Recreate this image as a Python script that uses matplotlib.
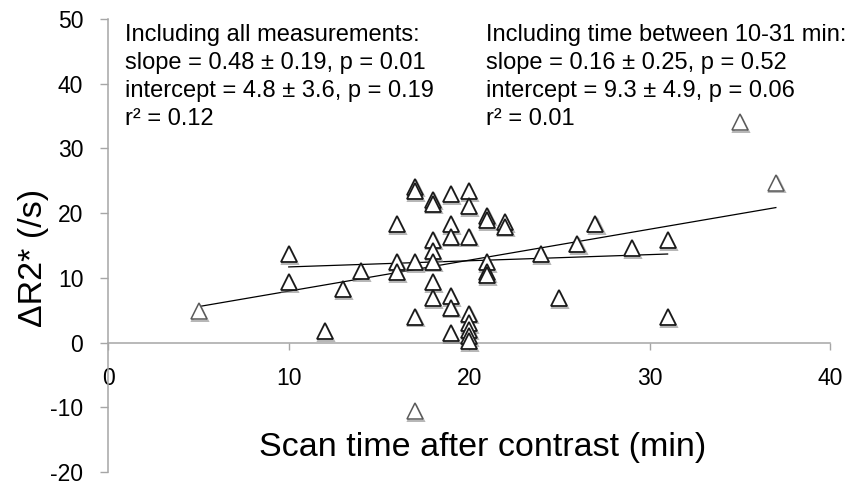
import numpy as np
import matplotlib
matplotlib.use("Agg")
import matplotlib.pyplot as plt
import matplotlib.transforms as mtransforms

plt.rcParams['font.family'] = ['Liberation Sans', 'DejaVu Sans']
plt.rcParams['axes.unicode_minus'] = False

# Measurements within the 10-31 min window
time_window = [10, 10, 12, 13, 14, 16, 16, 16, 17, 17, 17, 17,
               18, 18, 18, 18, 18, 18, 18, 19, 19, 19, 19, 19, 19,
               20, 20, 20, 20, 20, 20, 20, 20, 21, 21, 21, 21, 21,
               22, 22, 24, 25, 26, 27, 29, 31, 31]
r2_window = [13.7, 9.4, 1.75, 8.3, 11.1, 18.3, 12.5, 10.9, 24.1, 23.4, 12.4, 4.0,
             22.1, 21.5, 15.9, 14.1, 12.5, 9.4, 6.9, 22.9, 18.3, 16.4, 7.2, 5.4, 1.5,
             23.4, 21.1, 16.4, 4.5, 3.0, 2.0, 1.0, 0.2, 19.6, 18.9, 12.4, 10.9, 10.4,
             18.6, 17.9, 13.7, 6.9, 15.2, 18.3, 14.6, 15.8, 3.9]

# Remaining measurements
time_other = [5, 17, 35, 37]
r2_other = [4.9, -10.6, 34.1, 24.7]

x_ticks = [0, 10, 20, 30, 40]
y_ticks = [-20, -10, 0, 10, 20, 30, 40, 50]

text_all = ("Including all measurements:\n"
            "slope = 0.48 \u00b1 0.19, p = 0.01\n"
            "intercept = 4.8 \u00b1 3.6, p = 0.19\n"
            "r\u00b2 = 0.12")
text_window = ("Including time between 10-31 min:\n"
               "slope = 0.16 \u00b1 0.25, p = 0.52\n"
               "intercept = 9.3 \u00b1 4.9, p = 0.06\n"
               "r\u00b2 = 0.01")

fig = plt.figure(figsize=(8.49, 4.87), dpi=100)
ax = fig.add_axes([0.1276, 0.0304, 0.8500, 0.9306])
ax.set_xlim(0, 40)
ax.set_ylim(-20, 50)

axis_gray = '#a6a6a6'
for s in ['top', 'right']:
    ax.spines[s].set_visible(False)
ax.spines['left'].set_color(axis_gray)
ax.spines['bottom'].set_color(axis_gray)
ax.spines['left'].set_linewidth(1.1)
ax.spines['bottom'].set_linewidth(1.1)
ax.spines['bottom'].set_position(('data', 0))

ax.set_xticks(x_ticks)
ax.set_yticks(y_ticks)
ax.tick_params(axis='y', direction='out', length=5.5, width=1.0, color=axis_gray,
               pad=12.5, labelsize=16.5, labelcolor='black')
ax.tick_params(axis='x', direction='out', length=5, width=1.0, color=axis_gray,
               pad=12.3, labelsize=16.5, labelcolor='black')

# regression lines
all_t = np.array(time_window + time_other, dtype=float)
all_r = np.array(r2_window + r2_other, dtype=float)
p_all = np.polyfit(all_t, all_r, 1)
xs_all = np.array([all_t.min(), all_t.max()])
ax.plot(xs_all, np.polyval(p_all, xs_all), color='black', lw=0.9, zorder=3)

tw = np.array(time_window, dtype=float)
rw = np.array(r2_window, dtype=float)
p_w = np.polyfit(tw, rw, 1)
xs_w = np.array([tw.min(), tw.max()])
ax.plot(xs_w, np.polyval(p_w, xs_w), color='black', lw=0.9, zorder=3)

# marker shadows
shadow = mtransforms.offset_copy(ax.transData, fig=fig, x=0.8, y=-1.2, units='points')
ax.plot(time_window + time_other, r2_window + r2_other, linestyle='none', marker='^',
        markersize=11, markerfacecolor='none', markeredgecolor='#7a7a7a',
        markeredgewidth=1.4, alpha=0.55, transform=shadow, zorder=4)

ax.plot(time_window, r2_window, linestyle='none', marker='^', markersize=11,
        markerfacecolor='white', markeredgecolor='#1a1a1a', markeredgewidth=1.3,
        zorder=5)
ax.plot(time_other, r2_other, linestyle='none', marker='^', markersize=11,
        markerfacecolor='white', markeredgecolor='#5a5a5a', markeredgewidth=1.1,
        zorder=5)

ax.text(0.93, 49.26, text_all, fontsize=17, va='top', ha='left',
        linespacing=1.35, color='black')
ax.text(20.94, 49.26, text_window, fontsize=17, va='top', ha='left',
        linespacing=1.35, color='black')

ax.set_xlabel('Scan time after contrast (min)', fontsize=24.5)
ax.xaxis.set_label_coords(0.518, 0.0883)
ax.set_ylabel('\u0394R2* (/s)', fontsize=24.5)
ax.yaxis.set_label_coords(-0.0826, 0.4737)

fig.savefig('out.png', dpi=100)
